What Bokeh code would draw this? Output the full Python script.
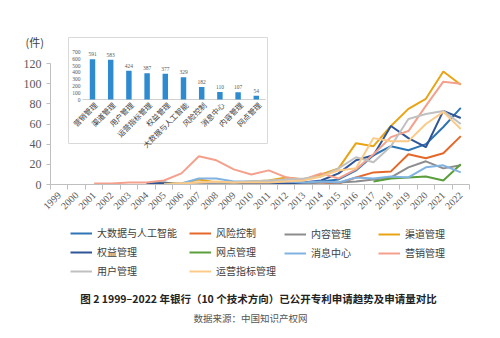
import math
from bokeh.plotting import figure
from bokeh.layouts import column
from bokeh.models import Range1d, FixedTicker, Legend, LegendItem, Label
from bokeh.core.properties import value
from bokeh.embed import file_html
from bokeh.resources import INLINE

nan = float("nan")

# ---------------- data ----------------
years = [str(y) for y in range(1999, 2023)]

s_dashuju = [nan, nan, nan, nan, nan, 1, 2, 0, 0, 1, 1, 1, 1, 1, 1, 3, 5, 14, 29, 38, 34, 40, 57, 76]
s_fengxian = [nan, nan, nan, nan, nan, nan, 0, 0, 1, 2, 2, 1, 1, 1, 2, 2, 1, 7, 12, 13, 30, 26, 31, 48]
s_neirong = [nan, nan, nan, nan, nan, nan, 0, 0, 1, 1, 1, 1, 1, 1, 1, 2, 2, 3, 5, 7, 17, 23, 16, 19]
s_qudao = [nan, nan, nan, nan, nan, 0, 1, 1, 5, 2, 2, 3, 4, 7, 5, 10, 16, 41, 38, 58, 75, 85, 112, 99]
s_quanyi = [nan, nan, nan, nan, nan, 1, 1, 0, 0, 0, 0, 1, 1, 1, 2, 4, 11, 24, 29, 58, 46, 37, 73, 66]
s_wangdian = [nan, nan, nan, nan, nan, nan, nan, nan, nan, nan, nan, nan, nan, nan, nan, nan, nan, nan, 3, 6, 7, 8, 4, 20]
s_xiaoxi = [nan, nan, nan, nan, nan, nan, 0, 1, 6, 6, 3, 3, 3, 3, 2, 3, 2, 7, 6, 8, 7, 17, 19, 12]
s_yingxiao = [nan, nan, 1, 1, 2, 2, 4, 11, 28, 24, 15, 10, 14, 7, 5, 11, 6, 15, 30, 47, 53, 78, 102, 100]
s_yonghu = [nan, nan, nan, nan, nan, nan, 0, 1, 2, 2, 2, 3, 4, 5, 6, 8, 16, 27, 22, 38, 65, 70, 73, 60]
s_yunying = [nan, nan, nan, nan, nan, nan, 0, 1, 2, 3, 2, 2, 2, 3, 4, 8, 14, 16, 46, 43, 43, 60, 72, 55]

series_names = ["大数据与人工智能", "风险控制", "内容管理", "渠道管理", "权益管理",
                "网点管理", "消息中心", "营销管理", "用户管理", "运营指标管理"]
series_values = [s_dashuju, s_fengxian, s_neirong, s_qudao, s_quanyi,
                 s_wangdian, s_xiaoxi, s_yingxiao, s_yonghu, s_yunying]
series_colors = ["#2E75B6", "#E4682A", "#8C8C8C", "#E9A416", "#2F5597",
                 "#5B9E3C", "#80B2E2", "#F5A08C", "#C0C0C0", "#FCCA88"]

main_ticks = [0, 20, 40, 60, 80, 100, 120]

inset_cats = ["营销管理", "渠道管理", "用户管理", "运营指标管理", "权益管理",
              "大数据与人工智能", "风险控制", "消息中心", "内容管理", "网点管理"]
inset_counts = [591, 583, 424, 387, 377, 329, 182, 110, 107, 54]
inset_ticks = [0, 100, 200, 300, 400, 500, 600, 700]

caption = "图 2 1999–2022 年银行（10 个技术方向）已公开专利申请趋势及申请量对比"
source_note = "数据来源：中国知识产权网"

# ---------------- layout constants ----------------
W, H = 500, 338
H1 = 218                      # height of the chart figure
H2 = H - H1                   # height of the legend/caption strip
FL, FR, FT, FB = 50, 469, 34, 184
PX_PER_UNIT = 121 / 120.0
Y_END = (FB - FT) / PX_PER_UNIT

# inset mapping (pixels -> inset data)
IN_X0, IN_DX = 92, 18.2
IN_Y0, IN_K = 99, 0.068
ix_start = -(IN_X0 - FL) / IN_DX
ix_end = ix_start + (FR - FL) / IN_DX
iy_start = -(FB - IN_Y0) / IN_K
iy_end = (IN_Y0 - FT) / IN_K


def ix(px):
    return ix_start + (px - FL) / IN_DX


def iy(py):
    return (IN_Y0 - py) / IN_K


CJK = "Noto Sans CJK SC"
SERIF = "Liberation Serif"

p = figure(width=W, height=H1, output_backend="svg", toolbar_location=None,
           x_range=Range1d(-0.5, 23.5), y_range=Range1d(0, Y_END),
           min_border_left=FL, min_border_right=W - FR,
           min_border_top=FT, min_border_bottom=H1 - FB)
p.outline_line_color = None
p.xgrid.visible = False
p.ygrid.visible = False
p.background_fill_color = "white"
p.border_fill_color = "white"

# unit label as the (left aligned) top title
p.title.text = "(件)"
p.title.align = "left"
p.title.offset = -25
p.title.vertical_align = "bottom"
p.title.standoff = -30
p.title.text_font = CJK
p.title.text_font_size = "11px"
p.title.text_font_style = "normal"
p.title.text_color = "#404040"

# y axis
p.yaxis.ticker = FixedTicker(ticks=main_ticks)
p.yaxis.bounds = (0, 120)
p.yaxis.axis_line_color = "#BFBFBF"
p.yaxis.major_tick_line_color = "#BFBFBF"
p.yaxis.major_tick_out = 4
p.yaxis.major_tick_in = 0
p.yaxis.minor_tick_line_color = None
p.yaxis.major_label_text_font = SERIF
p.yaxis.major_label_text_font_size = "12px"
p.yaxis.major_label_text_color = "#595959"
p.yaxis.major_label_standoff = 5

# x axis
idx = list(range(len(years)))
p.xaxis.ticker = FixedTicker(ticks=idx, minor_ticks=[i - 0.5 for i in range(len(years) + 1)])
p.xaxis.major_label_overrides = {i: y for i, y in enumerate(years)}
p.xaxis.axis_line_color = "#BFBFBF"
p.xaxis.major_tick_line_color = None
p.xaxis.minor_tick_line_color = "#BFBFBF"
p.xaxis.minor_tick_out = 5
p.xaxis.minor_tick_in = 0
p.xaxis.major_label_orientation = math.pi / 4
p.xaxis.major_label_text_font = SERIF
p.xaxis.major_label_text_font_size = "10px"
p.xaxis.major_label_text_color = "#595959"
p.xaxis.major_label_standoff = 3

# ---------------- inset bar chart ----------------
p.extra_x_ranges = {"ix": Range1d(ix_start, ix_end)}
p.extra_y_ranges = {"iy": Range1d(iy_start, iy_end)}

p.quad(left=[ix(68)], right=[ix(267)], bottom=[iy(143)], top=[iy(37)],
       x_range_name="ix", y_range_name="iy",
       fill_color="white", line_color="#D9D9D9", line_width=1)

inset_idx = list(range(len(inset_cats)))
p.segment(x0=[ix(82)], y0=[0], x1=[ix(265)], y1=[0], x_range_name="ix", y_range_name="iy",
          line_color="#D0D0D0", line_width=1)
p.vbar(x=inset_idx, top=inset_counts, width=0.3, bottom=0,
       x_range_name="ix", y_range_name="iy", fill_color="#2E8BD0", line_color=None)
p.text(x=inset_idx, y=inset_counts, text=[str(c) for c in inset_counts],
       x_range_name="ix", y_range_name="iy", y_offset=-3,
       text_font=value(SERIF), text_font_size="5.5px", text_color="#595959",
       text_align="center", text_baseline="bottom")
p.text(x=[ix(80)] * len(inset_ticks), y=inset_ticks, text=[str(t) for t in inset_ticks],
       x_range_name="ix", y_range_name="iy",
       text_font=value(SERIF), text_font_size="5.5px", text_color="#595959",
       text_align="right", text_baseline="middle")
p.text(x=inset_idx, y=[0] * len(inset_cats), text=inset_cats,
       x_range_name="ix", y_range_name="iy", x_offset=3, y_offset=4,
       angle=math.pi / 4, text_font=value(CJK), text_font_size="7.5px", text_color="#404040",
       text_align="right", text_baseline="middle")

# ---------------- lines ----------------
for name, vals, col in zip(series_names, series_values, series_colors):
    p.line(x=idx, y=vals, line_color=col, line_width=2)

# ---------------- legend + caption strip ----------------
# (its frame is aligned by the column layout with the chart frame: FL..FR)
q = figure(width=W, height=H2, output_backend="svg", toolbar_location=None,
           x_range=Range1d(0, FR - FL), y_range=Range1d(0, H2),
           x_axis_location=None, y_axis_location=None,
           min_border_left=0, min_border_right=0, min_border_top=0, min_border_bottom=0)
q.outline_line_color = None
q.xgrid.visible = False
q.ygrid.visible = False
q.background_fill_color = "white"
q.border_fill_color = "white"

# legend proxies, kept outside the visible range of the strip
proxies = [q.line(x=[-200, -100], y=[-200, -200], line_color=c, line_width=2)
           for c in series_colors]

# column start (px from left of canvas) and row layout, like the reference legend
col_x = [70, 189, 284, 378]
columns = [[0, 4, 8], [1, 5, 9], [2, 6], [3, 7]]
for cx, items in zip(col_x, columns):
    bottom_px = 228 + 18 * len(items) - 4          # canvas y of the legend bottom
    lg = Legend(items=[LegendItem(label=series_names[i], renderers=[proxies[i]]) for i in items],
                location=(cx - FL, H - bottom_px),
                orientation="vertical", border_line_color=None, background_fill_alpha=0,
                padding=0, margin=0, spacing=4, glyph_width=22, glyph_height=14,
                label_height=14, label_standoff=5, label_text_font=CJK,
                label_text_font_size="10px", label_text_color="#404040")
    q.add_layout(lg, "center")

q.add_layout(Label(x=258 - FL, y=H - 298, x_units="screen", y_units="screen", text=caption,
                   text_font=CJK, text_font_size="10.5px", text_font_style="bold",
                   text_color="#222222", text_align="center", text_baseline="middle"))
q.add_layout(Label(x=250 - FL, y=H - 317, x_units="screen", y_units="screen", text=source_note,
                   text_font=CJK, text_font_size="9.5px", text_color="#555555",
                   text_align="center", text_baseline="middle"))

layout = column(p, q, spacing=0)
open("out.html", "w").write(file_html(layout, INLINE))
